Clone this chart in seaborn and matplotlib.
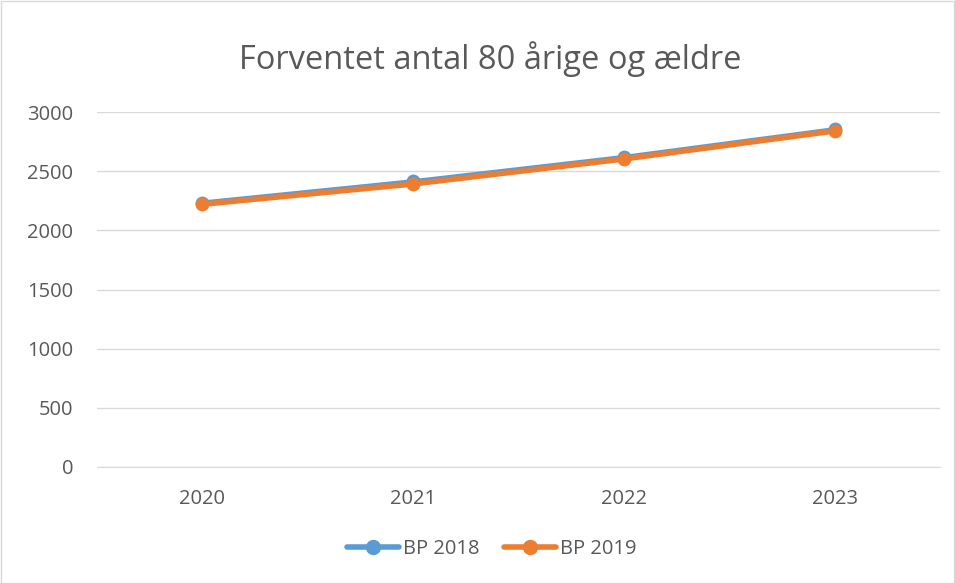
import pandas as pd
import seaborn as sns
import matplotlib.pyplot as plt
from matplotlib.patches import Rectangle

YEARS = ['2020', '2021', '2022', '2023']
BP_2018 = [2235, 2415, 2620, 2855]
BP_2019 = [2220, 2392, 2603, 2840]
SERIES = ['BP 2018', 'BP 2019']
COLORS = ['#5b9bd5', '#ed7d31']

df = pd.DataFrame({
    'year': YEARS * 2,
    'value': BP_2018 + BP_2019,
    'serie': [SERIES[0]] * 4 + [SERIES[1]] * 4,
})

sns.set_style('white')
plt.rcParams['font.family'] = ['Open Sans', 'DejaVu Sans']

fig = plt.figure(figsize=(9.55, 5.83), dpi=100)
ax = fig.add_axes([97 / 955, 1 - 467 / 583, (940 - 97) / 955, (467 - 112) / 583])

sns.lineplot(data=df, x='year', y='value', hue='serie', palette=COLORS,
             marker='o', markersize=10, markeredgewidth=0, sort=False, ax=ax,
             legend=False)
ax.lines[0].set_linewidth(3)
ax.lines[1].set_linewidth(4)

ax.set_xlim(-0.5, 3.5)
ax.set_ylim(0, 3000)
ax.set_yticks(range(0, 3001, 500))
ax.grid(axis='y', color='#d9d9d9', linewidth=1)
ax.set_axisbelow(True)
for s in ['top', 'right', 'left']:
    ax.spines[s].set_visible(False)
ax.spines['bottom'].set_color('#d9d9d9')
ax.tick_params(axis='both', length=0, labelsize=14.5, colors='#595959')
ax.tick_params(axis='x', pad=16)
ax.tick_params(axis='y', pad=17)
ax.set_xlabel('')
ax.set_ylabel('')

fig.text(0.513, 1 - 59 / 583, 'Forventet antal 80 årige og ældre', ha='center', va='center',
         fontsize=23.5, color='#595959')

handles = [plt.Line2D([], [], color=c, lw=4, marker='o', markersize=10) for c in COLORS]
fig.legend(handles, SERIES, loc='center', bbox_to_anchor=(492 / 955, 1 - 549 / 583), ncol=2,
           frameon=False, fontsize=14.5, labelcolor='#595959', handlelength=2.6,
           columnspacing=1.2, handletextpad=0.2)

fig.patches.append(Rectangle((0.5 / 955, 0.5 / 583), 1 - 1.5 / 955, 1 - 1.5 / 583,
                             transform=fig.transFigure, fill=False, edgecolor='#d9d9d9', lw=1))

fig.savefig('out.png', dpi=100)
